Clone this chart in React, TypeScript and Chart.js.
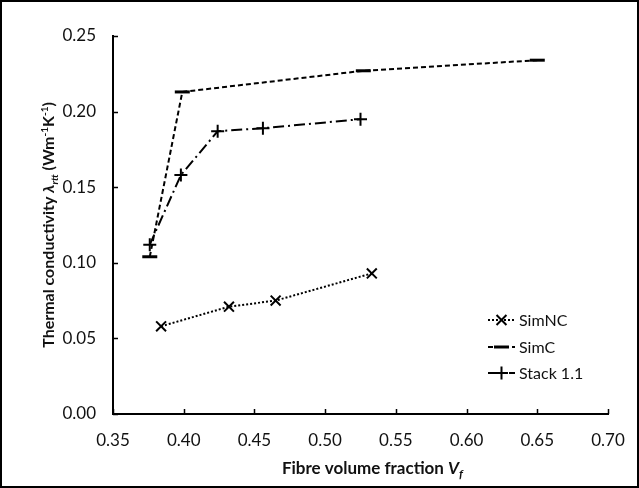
import React, { useEffect, useRef } from "react";
import { Chart, registerables } from "chart.js";

Chart.register(...registerables);

const simNcX = [0.384, 0.432, 0.465, 0.533];
const simNcY = [0.058, 0.071, 0.075, 0.093];
const simCX = [0.376, 0.399, 0.527, 0.65];
const simCY = [0.104, 0.213, 0.227, 0.234];
const stackX = [0.376, 0.398, 0.424, 0.456, 0.525];
const stackY = [0.112, 0.158, 0.187, 0.189, 0.195];
const xTicks = [0.35, 0.4, 0.45, 0.5, 0.55, 0.6, 0.65, 0.7];
const yTicks = [0, 0.05, 0.1, 0.15, 0.2, 0.25];
const seriesNames = ["SimNC", "SimC", "Stack 1.1"];

const FONT = "Lato, 'Open Sans', sans-serif";

type Seg = { t: string; font: string; dy?: number };

function drawRich(ctx: CanvasRenderingContext2D, segs: Seg[], x: number, y: number) {
  let total = 0;
  for (const s of segs) {
    ctx.font = s.font;
    total += ctx.measureText(s.t).width;
  }
  let cx = x - total / 2;
  ctx.textAlign = "left";
  ctx.textBaseline = "alphabetic";
  for (const s of segs) {
    ctx.font = s.font;
    ctx.fillText(s.t, cx, y + (s.dy || 0));
    cx += ctx.measureText(s.t).width;
  }
}

const decorPlugin = {
  id: "decor",
  afterDraw(chart: any) {
    const ctx: CanvasRenderingContext2D = chart.ctx;
    const xs = chart.scales.x;
    const ys = chart.scales.y;
    const area = chart.chartArea;
    ctx.save();
    // outer frame
    ctx.strokeStyle = "#000";
    ctx.lineWidth = 2;
    ctx.strokeRect(1, 1, chart.width - 2, chart.height - 2);
    // inward tick marks
    ctx.lineWidth = 1.5;
    ctx.beginPath();
    for (const v of xTicks) {
      const px = Math.round(xs.getPixelForValue(v)) + 0.5;
      ctx.moveTo(px, area.bottom);
      ctx.lineTo(px, area.bottom - 5);
    }
    for (const v of yTicks) {
      const py = Math.round(ys.getPixelForValue(v)) + 0.5;
      ctx.moveTo(area.left, py);
      ctx.lineTo(area.left + 5, py);
    }
    ctx.stroke();
    // axis titles
    ctx.fillStyle = "#111";
    drawRich(
      ctx,
      [
        { t: "Fibre volume fraction ", font: `bold 17px ${FONT}` },
        { t: "V", font: `italic bold 17px ${FONT}` },
        { t: "f", font: `italic bold 12px ${FONT}`, dy: 4 },
      ],
      (area.left + area.right) / 2 + 12,
      474
    );
    ctx.save();
    ctx.translate(54, (area.top + area.bottom) / 2);
    ctx.rotate(-Math.PI / 2);
    drawRich(
      ctx,
      [
        { t: "Thermal conductivity ", font: `bold 16px ${FONT}` },
        { t: "λ", font: `italic bold 16px ${FONT}` },
        { t: "rtt", font: `italic bold 10px ${FONT}`, dy: 4 },
        { t: " (Wm", font: `bold 16px ${FONT}` },
        { t: "-1", font: `bold 10px ${FONT}`, dy: -6 },
        { t: "K", font: `bold 16px ${FONT}` },
        { t: "-1", font: `bold 10px ${FONT}`, dy: -6 },
        { t: ")", font: `bold 16px ${FONT}` },
      ],
      0,
      0
    );
    ctx.restore();
    // legend
    const rows = [320, 347, 373];
    chart.data.datasets.forEach((ds: any, i: number) => {
      const y = rows[i];
      const x0 = 488;
      const x1 = 515;
      ctx.strokeStyle = "#000";
      ctx.lineWidth = ds.borderWidth;
      ctx.setLineDash(ds.borderDash || []);
      ctx.beginPath();
      ctx.moveTo(x0, y);
      ctx.lineTo(x1, y);
      ctx.stroke();
      ctx.setLineDash([]);
      ctx.lineWidth = ds.pointBorderWidth;
      ctx.beginPath();
      const r = ds.pointRadius;
      const cx = (x0 + x1) / 2;
      if (ds.pointStyle === "crossRot") {
        const d = r * 0.707;
        ctx.moveTo(cx - d, y - d);
        ctx.lineTo(cx + d, y + d);
        ctx.moveTo(cx + d, y - d);
        ctx.lineTo(cx - d, y + d);
      } else if (ds.pointStyle === "line") {
        ctx.moveTo(cx - r, y);
        ctx.lineTo(cx + r, y);
      } else {
        ctx.moveTo(cx - r, y);
        ctx.lineTo(cx + r, y);
        ctx.moveTo(cx, y - r);
        ctx.lineTo(cx, y + r);
      }
      ctx.stroke();
      ctx.fillStyle = "#111";
      ctx.font = `16px ${FONT}`;
      ctx.textAlign = "left";
      ctx.textBaseline = "middle";
      ctx.fillText(ds.label, x1 + 4, y + 1);
    });
    ctx.restore();
  },
};

export default function App() {
  const ref = useRef<HTMLCanvasElement | null>(null);
  useEffect(() => {
    document.body.style.margin = "0";
    document.body.style.background = "#fff";
    const canvas = ref.current!;
    const toPts = (xs: number[], ys: number[]) => xs.map((x, i) => ({ x, y: ys[i] }));
    const chart = new Chart(canvas, {
      type: "line",
      data: {
        datasets: [
          {
            label: seriesNames[0],
            data: toPts(simNcX, simNcY),
            borderColor: "#000",
            backgroundColor: "#000",
            borderWidth: 2,
            borderDash: [2, 2],
            pointStyle: "crossRot",
            pointRadius: 7,
            pointBorderWidth: 2,
            pointBorderColor: "#000",
            fill: false,
          },
          {
            label: seriesNames[1],
            data: toPts(simCX, simCY),
            borderColor: "#000",
            backgroundColor: "#000",
            borderWidth: 2,
            borderDash: [5, 3],
            pointStyle: "line",
            pointRadius: 7.5,
            pointBorderWidth: 3,
            pointBorderColor: "#000",
            fill: false,
          },
          {
            label: seriesNames[2],
            data: toPts(stackX, stackY),
            borderColor: "#000",
            backgroundColor: "#000",
            borderWidth: 2,
            borderDash: [11, 4, 2, 4],
            pointStyle: "cross",
            pointRadius: 6.5,
            pointBorderWidth: 2,
            pointBorderColor: "#000",
            fill: false,
          },
        ],
      } as any,
      options: {
        animation: false,
        responsive: false,
        devicePixelRatio: 1,
        layout: { padding: { left: 0, right: 31, top: 36, bottom: 0 } },
        plugins: { legend: { display: false }, tooltip: { enabled: false } },
        scales: {
          x: {
            type: "linear",
            min: 0.35,
            max: 0.7,
            afterBuildTicks: (s: any) => {
              s.ticks = xTicks.map((v) => ({ value: v }));
            },
            afterFit: (s: any) => {
              s.height = 74;
            },
            grid: { display: false },
            border: { display: true, color: "#000", width: 2 },
            ticks: {
              color: "#111",
              padding: 8,
              font: { family: FONT, size: 17 },
              maxRotation: 0,
              callback: (v: any) => Number(v).toFixed(2),
            },
          },
          y: {
            type: "linear",
            min: 0,
            max: 0.25,
            afterBuildTicks: (s: any) => {
              s.ticks = yTicks.map((v) => ({ value: v }));
            },
            afterFit: (s: any) => {
              s.width = 113;
            },
            grid: { display: false },
            border: { display: true, color: "#000", width: 2 },
            ticks: {
              color: "#111",
              padding: 9,
              font: { family: FONT, size: 17 },
              callback: (v: any) => Number(v).toFixed(2),
            },
          },
        },
      } as any,
      plugins: [decorPlugin],
    });
    return () => chart.destroy();
  }, []);
  return (
    <div style={{ width: 639, height: 488 }}>
      <canvas ref={ref} width={639} height={488} style={{ display: "block" }} />
    </div>
  );
}
